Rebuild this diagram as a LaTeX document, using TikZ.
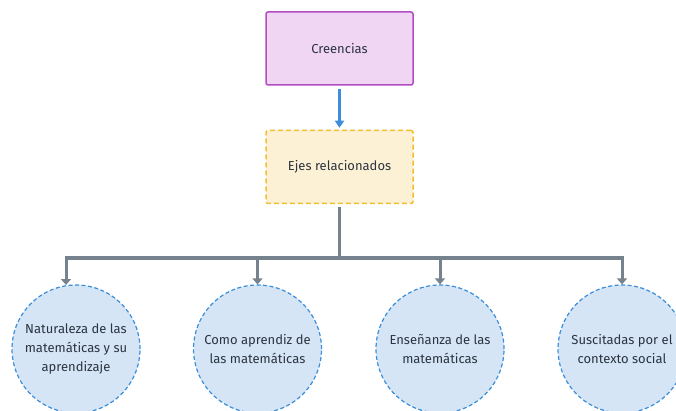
\documentclass[tikz,border=0pt]{standalone}
\usepackage{fontspec}
\setmainfont{Fira Sans}
\usetikzlibrary{arrows.meta}

\definecolor{lilafill}{HTML}{F1D6F4}
\definecolor{lilaline}{HTML}{B34CC2}
\definecolor{ocrefill}{HTML}{FDF1D5}
\definecolor{ocreline}{HTML}{F1BF2C}
\definecolor{azulfill}{HTML}{D5E5F5}
\definecolor{azulline}{HTML}{3B8EDB}
\definecolor{grisline}{HTML}{77828F}
\definecolor{textcol}{HTML}{2B3440}

\begin{document}
\begin{tikzpicture}[x=1pt,y=-1pt,
    font=\fontsize{13}{19}\selectfont, text=textcol,
    caja/.style={rectangle, rounded corners=2pt, minimum width=147pt, minimum height=73pt, line width=1.5pt},
    circulo/.style={circle, minimum size=128pt, inner sep=0pt, align=center, fill=azulfill, draw=azulline,
                    line width=1.2pt, dash pattern=on 4pt off 2.5pt},
    flecha/.style={draw=azulline, line width=2.2pt, -{Triangle[length=7pt,width=9pt]}},
    rama/.style={draw=grisline, line width=3pt},
    ramaflecha/.style={rama, -{Triangle[length=6pt,width=10pt]}}]

\useasboundingbox (0,0) rectangle (676,411);

% cajas de arriba
\node[caja, fill=lilafill, draw=lilaline] (creencias) at (339.5,48.5) {Creencias};
\node[caja, fill=ocrefill, draw=ocreline, dash pattern=on 5pt off 3pt] (ejes) at (339.5,167) {Ejes relacionados};

% circulos
\node[circulo] (nat) at (76,349) {Naturaleza de las\\matemáticas y su\\aprendizaje};
\node[circulo] (como) at (257.5,349) {Como aprendiz de\\las matemáticas};
\node[circulo] (ense) at (440,349) {Enseñanza de las\\matemáticas};
\node[circulo] (susc) at (622,349) {Suscitadas por el\\contexto social};

\coordinate (bus) at (339.5,258);
\coordinate (b1) at (66,258);
\coordinate (b4) at (622,258);
\coordinate (t1) at (66,285);

\draw[flecha, shorten <=3pt, shorten >=2pt] (creencias) -- (ejes);
\draw[rama, shorten <=3pt] (ejes) -- (bus);
\draw[rama, line cap=rect] (b1) -- (b4);
\draw[ramaflecha] (b1) -- (t1);
\foreach \c in {como,ense,susc}
    \draw[ramaflecha] (bus -| \c) -- (\c.north);

\end{tikzpicture}
\end{document}
